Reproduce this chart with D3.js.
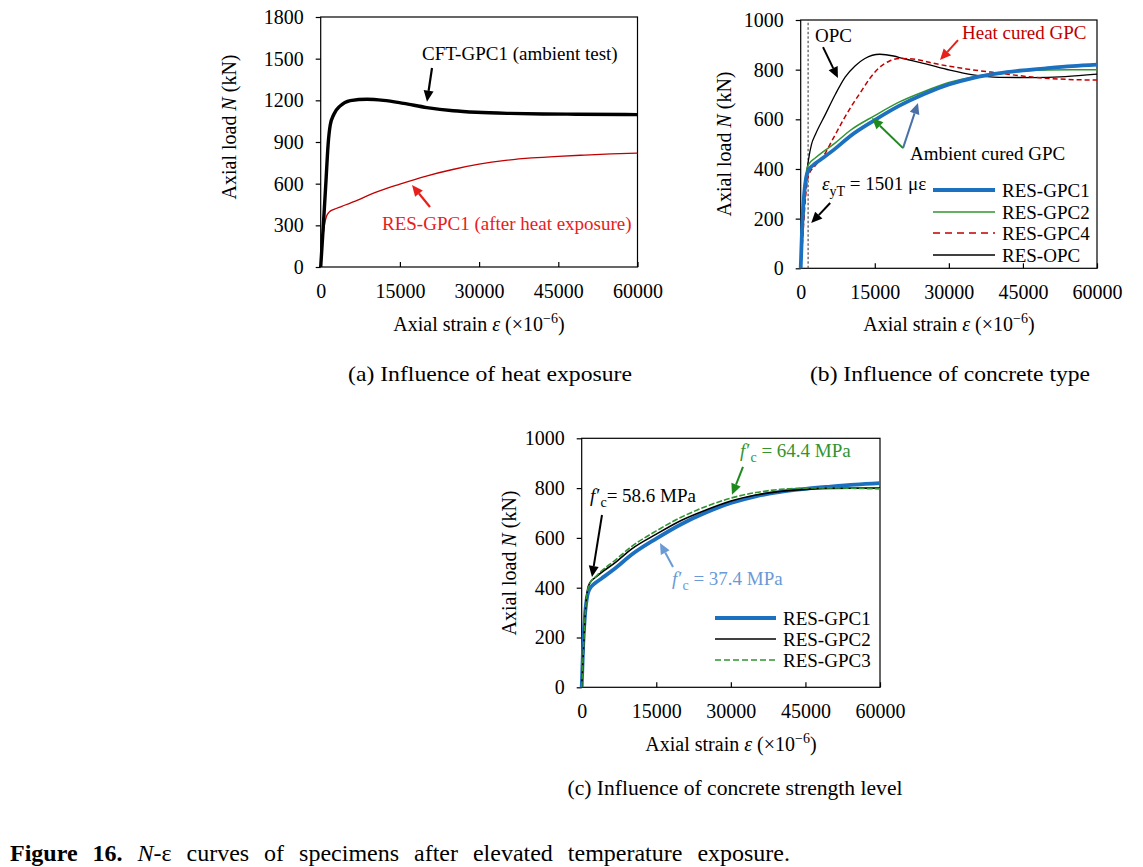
<!DOCTYPE html>
<html><head><meta charset="utf-8">
<script src="https://cdn.jsdelivr.net/npm/d3@7"></script>
<style>body{margin:0;background:#fff} svg{display:block} text{font-family:"Liberation Serif","Times New Roman",serif;}</style>
</head><body><svg id="chart" width="1143" height="867"></svg>
<script>
// ---------- data (strain ×10^-6, load kN) ----------
const strainTicks = [0, 15000, 30000, 45000, 60000];
const loadTicksA = [0, 300, 600, 900, 1200, 1500, 1800];
const loadTicksBC = [0, 200, 400, 600, 800, 1000];

const cftGpc1 = [[0,0],[500,300],[1000,620],[1400,880],[1800,1020],[2500,1100],[3700,1160],[5600,1198],[8800,1208],[11900,1200],[15700,1178],[20100,1148],[25100,1125],[29500,1114],[35800,1106],[42100,1102],[48400,1100],[60000,1097]];
const resGpc1 = [[0,0],[300,170],[700,300],[1100,365],[1600,395],[2500,415],[4000,437],[7000,482],[10000,532],[15000,597],[20000,655],[25000,702],[30000,740],[35000,767],[40000,785],[45000,797],[50000,806],[55000,814],[60000,820]];
const resGpc2 = [[0,0],[400,170],[800,320],[1200,395],[1600,418],[3000,445],[7000,505],[10000,555],[15000,615],[20000,670],[25000,712],[30000,748],[35000,772],[40000,787],[45000,795],[50000,799],[55000,800],[60000,800]];
const resGpc3 = [[0,0],[400,170],[800,320],[1200,390],[1600,415],[3000,448],[7000,515],[10000,565],[15000,628],[20000,683],[25000,726],[30000,760],[35000,782],[40000,795],[45000,800],[50000,801],[55000,799],[60000,797]];
const resGpc4 = [[0,0],[400,120],[800,240],[1200,330],[1600,375],[3000,415],[4700,455],[6500,520],[8700,600],[10500,660],[12000,705],[14000,765],[16000,810],[18000,835],[20100,845],[23500,841],[26800,826],[30000,814],[33500,803],[40200,786],[46900,770],[53600,761],[60000,758]];
const resOpc = [[0,0],[400,140],[800,270],[1200,380],[1600,440],[2200,500],[3000,540],[5000,620],[7000,700],[9000,770],[11000,815],[13000,845],[16000,862],[18800,855],[20700,845],[25500,822],[30200,798],[34900,779],[40200,769],[46900,768],[53600,772],[60000,782]];
const epsYT = 1501;

// ---------- setup ----------
const svg = d3.select("#chart");
const FONT = "Liberation Serif";
const AF = 19; // annotation font size
const BLUE = "#1c70c0", GREEN = "#319431", DKRED = "#c00000", BRRED = "#e8201c";

function panel(box, yMax, yTicks) {
  const x = d3.scaleLinear().domain([0, 60000]).range([box.x0, box.x1]);
  const y = d3.scaleLinear().domain([0, yMax]).range([box.y1, box.y0]);
  const g = svg.append("g");
  const ax = g.append("g").attr("transform", `translate(0,${box.y1})`)
    .call(d3.axisBottom(x).tickValues(strainTicks).tickFormat(d3.format("d")).tickSizeInner(-5).tickSizeOuter(0).tickPadding(17));
  const ay = g.append("g").attr("transform", `translate(${box.x0},0)`)
    .call(d3.axisLeft(y).tickValues(yTicks).tickFormat(d3.format("d")).tickSizeInner(5).tickSizeOuter(0).tickPadding(12));
  [ax, ay].forEach(a => {
    a.select(".domain").remove();
    a.selectAll("line").attr("stroke", "#000").attr("stroke-width", 1.2);
    a.selectAll("text").attr("font-size", 20).attr("font-family", FONT).attr("fill", "#000");
  });
  g.append("rect").attr("x", box.x0).attr("y", box.y0).attr("width", box.x1 - box.x0).attr("height", box.y1 - box.y0)
    .attr("fill", "none").attr("stroke", "#000").attr("stroke-width", 1.2);
  return { g, x, y, box };
}

function curve(p, data, color, width, dash) {
  const line = d3.line().x(d => p.x(d[0])).y(d => p.y(d[1])).curve(d3.curveMonotoneX);
  p.g.append("path").datum(data).attr("d", line).attr("fill", "none").attr("stroke", color)
    .attr("stroke-width", width).attr("stroke-dasharray", dash || null).attr("stroke-linejoin", "round");
}

function arrow(p, a, b, color, w) {
  const x1 = p.x(a[0]), y1 = p.y(a[1]), x2 = p.x(b[0]), y2 = p.y(b[1]);
  const ang = Math.atan2(y2 - y1, x2 - x1), L = 11, H = 5;
  const bx = x2 - L * Math.cos(ang), by = y2 - L * Math.sin(ang);
  p.g.append("line").attr("x1", x1).attr("y1", y1).attr("x2", bx).attr("y2", by).attr("stroke", color).attr("stroke-width", w);
  p.g.append("polygon").attr("points", [[x2, y2], [bx + H * Math.sin(ang), by - H * Math.cos(ang)], [bx - H * Math.sin(ang), by + H * Math.cos(ang)]].map(q => q.join(",")).join(" "))
    .attr("fill", color);
}

function yLabel(cx, cy) {
  const t = svg.append("text").attr("transform", `translate(${cx},${cy}) rotate(-90)`).attr("text-anchor", "middle")
    .attr("font-size", 20).attr("font-family", FONT);
  t.append("tspan").text("Axial load ");
  t.append("tspan").attr("font-style", "italic").text("N");
  t.append("tspan").text(" (kN)");
}
function xLabel(cx, by) {
  const t = svg.append("text").attr("x", cx).attr("y", by).attr("text-anchor", "middle").attr("font-size", 20).attr("font-family", FONT);
  t.append("tspan").text("Axial strain ");
  t.append("tspan").attr("font-style", "italic").text("ε");
  t.append("tspan").text(" (×10");
  t.append("tspan").attr("font-size", 14).attr("dy", -8).text("−6");
  t.append("tspan").attr("dy", 8).text(")");
}
function fcText(p, pos, value, color, eqSpace) {
  const t = p.g.append("text").attr("x", p.x(pos[0])).attr("y", p.y(pos[1])).attr("font-size", AF).attr("font-family", FONT).attr("fill", color);
  t.append("tspan").attr("font-style", "italic").text("f");
  t.append("tspan").attr("font-size", 19).attr("dx", 1).text("′");
  t.append("tspan").attr("font-size", 14).attr("dy", 5).text("c");
  t.append("tspan").attr("dy", -5).text((eqSpace ? " = " : "= ") + value + " MPa");
}
function txt(p, pos, s, color) {
  p.g.append("text").attr("x", p.x(pos[0])).attr("y", p.y(pos[1])).attr("font-size", AF).attr("font-family", FONT).attr("fill", color).text(s);
}
function legend(p, x0, x1, rows) {
  rows.forEach(r => {
    p.g.append("line").attr("x1", x0).attr("x2", x1).attr("y1", r.y).attr("y2", r.y).attr("stroke", r.color)
      .attr("stroke-width", r.w).attr("stroke-dasharray", r.dash || null);
    p.g.append("text").attr("x", x1 + 7).attr("y", r.y + 7).attr("font-size", AF).attr("font-family", FONT).text(r.name);
  });
}

// ---------- panel (a) ----------
const pa = panel({ x0: 320.7, x1: 637.5, y0: 17, y1: 267 }, 1800, loadTicksA);
curve(pa, resGpc1, DKRED, 1.3);
curve(pa, cftGpc1, "#000", 3.4);
txt(pa, [19190, 1490], "CFT-GPC1 (ambient test)", "#000");
arrow(pa, [21080, 1433], [20130, 1190], "#000", 2.2);
txt(pa, [11610, 266], "RES-GPC1 (after heat exposure)", BRRED);
arrow(pa, [20700, 432], [17290, 590], BRRED, 2.2);
yLabel(236, 127);
xLabel(479, 331);

// ---------- panel (b) ----------
const pb = panel({ x0: 800.7, x1: 1097, y0: 20, y1: 268.3 }, 1000, loadTicksBC);
pb.g.append("line").attr("x1", pb.x(epsYT)).attr("x2", pb.x(epsYT)).attr("y1", pb.y(0)).attr("y2", pb.y(1000))
  .attr("stroke", "#555").attr("stroke-width", 1.2).attr("stroke-dasharray", "2.5,2");
curve(pb, resOpc, "#000", 1.3);
curve(pb, resGpc4, DKRED, 1.5, "5,3");
curve(pb, resGpc2, GREEN, 1.5);
curve(pb, resGpc1, BLUE, 3.8);
txt(pb, [2900, 911], "OPC", "#000");
arrow(pb, [4520, 891], [7540, 766], "#000", 2);
txt(pb, [32660, 923], "Heat cured GPC", DKRED);
arrow(pb, [31850, 919], [28210, 839], BRRED, 2);
txt(pb, [22130, 436], "Ambient cured GPC", "#000");
arrow(pb, [20720, 484], [14440, 605], "#1e8a1e", 2);
arrow(pb, [20720, 484], [23750, 666], "#4a70a8", 2);
{
  const t = pb.g.append("text").attr("x", pb.x(4310)).attr("y", pb.y(315)).attr("font-size", AF).attr("font-family", FONT);
  t.append("tspan").attr("font-style", "italic").text("ε");
  t.append("tspan").attr("font-size", 14).attr("dy", 6).text("yT");
  t.append("tspan").attr("dy", -6).text(" = 1501 με");
}
arrow(pb, [5970, 263], [2130, 182], "#000", 2);
legend(pb, 933, 995, [
  { y: 190, color: BLUE, w: 3.8, name: "RES-GPC1" },
  { y: 212, color: GREEN, w: 1.5, name: "RES-GPC2" },
  { y: 233, color: DKRED, w: 1.5, dash: "7,5", name: "RES-GPC4" },
  { y: 255, color: "#000", w: 1.3, name: "RES-OPC" }
]);
yLabel(731, 144);
xLabel(949, 331);

// ---------- panel (c) ----------
const pc = panel({ x0: 581.7, x1: 880, y0: 438.3, y1: 687.3 }, 1000, loadTicksBC);
curve(pc, resGpc1, BLUE, 3.8);
curve(pc, resGpc2, "#000", 1.6);
curve(pc, resGpc3, GREEN, 1.6, "6,2");
fcText(pc, [31840, 925], "64.4", GREEN, true);
arrow(pc, [32440, 885], [30230, 773], "#1e8a1e", 2);
fcText(pc, [1670, 744], "58.6", "#000", false);
arrow(pc, [4080, 692], [2070, 443], "#000", 2);
fcText(pc, [18160, 411], "37.4", "#6a9ad6", true);
arrow(pc, [18360, 483], [15750, 580], "#6a9ad6", 2);
legend(pc, 715, 776, [
  { y: 618, color: BLUE, w: 3.8, name: "RES-GPC1" },
  { y: 639, color: "#000", w: 1.3, name: "RES-GPC2" },
  { y: 660, color: GREEN, w: 1.5, dash: "6,3", name: "RES-GPC3" }
]);
yLabel(516, 563);
xLabel(731, 751);

// ---------- captions ----------
function caption(cx, by, s, len) {
  svg.append("text").attr("x", cx).attr("y", by).attr("text-anchor", "middle").attr("font-size", 22).attr("font-family", FONT)
    .attr("textLength", len).attr("lengthAdjust", "spacingAndGlyphs").text(s);
}
caption(490, 381, "(a) Influence of heat exposure", 284);
caption(950, 381, "(b) Influence of concrete type", 280);
caption(735, 795, "(c) Influence of concrete strength level", 335);
{
  const t = svg.append("text").attr("x", 10).attr("y", 861).attr("font-size", 24).attr("font-family", FONT);
  t.append("tspan").attr("font-weight", "bold").text("Figure 16.");
  t.append("tspan").text(" ");
  t.append("tspan").attr("font-style", "italic").text("N");
  t.append("tspan").text("-ε curves of specimens after elevated temperature exposure.");
  const natural = t.node().getComputedTextLength();
  const spaces = 9;
  if (natural < 780) t.attr("word-spacing", (780 - natural) / spaces);
  else t.attr("textLength", 780).attr("lengthAdjust", "spacingAndGlyphs");
}
</script></body></html>
